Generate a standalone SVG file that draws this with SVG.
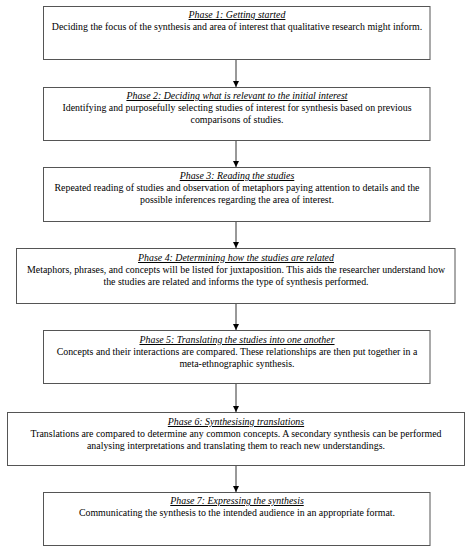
<svg xmlns="http://www.w3.org/2000/svg" width="469" height="550" viewBox="0 0 469 550">
<style>
.box{fill:#fff;stroke:#555;stroke-width:1}
.t{font-family:"Liberation Serif",serif;font-size:9.9px;font-style:italic;text-decoration:underline;text-anchor:middle;fill:#000}
.b{font-family:"Liberation Serif",serif;font-size:9.9px;text-anchor:middle;fill:#000}
.c{stroke:#333;stroke-width:1;fill:none}
</style>
<defs>
<marker id="ah" viewBox="0 0 6 6" refX="6" refY="3" markerWidth="6" markerHeight="6" markerUnits="userSpaceOnUse" orient="auto">
<path d="M0,0 L6,3 L0,6 Z" fill="#000"/>
</marker>
</defs>
<rect width="469" height="550" fill="#fff"/>
<g id="connectors">
<line class="c" x1="236" y1="59.5" x2="236" y2="87" marker-end="url(#ah)"/>
<line class="c" x1="236" y1="140.5" x2="236" y2="167" marker-end="url(#ah)"/>
<line class="c" x1="236" y1="221.5" x2="236" y2="248" marker-end="url(#ah)"/>
<line class="c" x1="236" y1="303.5" x2="236" y2="330" marker-end="url(#ah)"/>
<line class="c" x1="236" y1="383.5" x2="236" y2="412" marker-end="url(#ah)"/>
<line class="c" x1="236" y1="465.5" x2="236" y2="492" marker-end="url(#ah)"/>
</g>
<g id="phase1">
<rect class="box" x="43.5" y="6.5" width="386.5" height="53"/>
<text class="t" x="237" y="18">Phase 1: Getting started</text>
<text class="b" x="237" y="30">Deciding the focus of the synthesis and area of interest that qualitative research might inform.</text>
</g>
<g id="phase2">
<rect class="box" x="43.5" y="87.5" width="386.5" height="53"/>
<text class="t" x="237" y="99">Phase 2: Deciding what is relevant to the initial interest</text>
<text class="b" x="237" y="111">Identifying and purposefully selecting studies of interest for synthesis based on previous</text>
<text class="b" x="237" y="123">comparisons of studies.</text>
</g>
<g id="phase3">
<rect class="box" x="43.5" y="167.5" width="386.5" height="54"/>
<text class="t" x="237" y="179">Phase 3: Reading the studies</text>
<text class="b" x="237" y="191">Repeated reading of studies and observation of metaphors paying attention to details and the</text>
<text class="b" x="237" y="203">possible inferences regarding the area of interest.</text>
</g>
<g id="phase4">
<rect class="box" x="16.5" y="248.5" width="438.5" height="55"/>
<text class="t" x="236" y="261">Phase 4: Determining how the studies are related</text>
<text class="b" x="236" y="273">Metaphors, phrases, and concepts will be listed for juxtaposition. This aids the researcher understand how</text>
<text class="b" x="236" y="285">the studies are related and informs the type of synthesis performed.</text>
</g>
<g id="phase5">
<rect class="box" x="43.5" y="330.5" width="386.5" height="53"/>
<text class="t" x="237" y="343">Phase 5: Translating the studies into one another</text>
<text class="b" x="237" y="355">Concepts and their interactions are compared. These relationships are then put together in a</text>
<text class="b" x="237" y="367">meta-ethnographic synthesis.</text>
</g>
<g id="phase6">
<rect class="box" x="7.5" y="412.5" width="457" height="53"/>
<text class="t" x="236" y="425">Phase 6: Synthesising translations</text>
<text class="b" x="236" y="437">Translations are compared to determine any common concepts. A secondary synthesis can be performed</text>
<text class="b" x="236" y="449">analysing interpretations and translating them to reach new understandings.</text>
</g>
<g id="phase7">
<rect class="box" x="43.5" y="492.5" width="386.5" height="53"/>
<text class="t" x="237" y="504">Phase 7: Expressing the synthesis</text>
<text class="b" x="237" y="516">Communicating the synthesis to the intended audience in an appropriate format.</text>
</g>
</svg>
